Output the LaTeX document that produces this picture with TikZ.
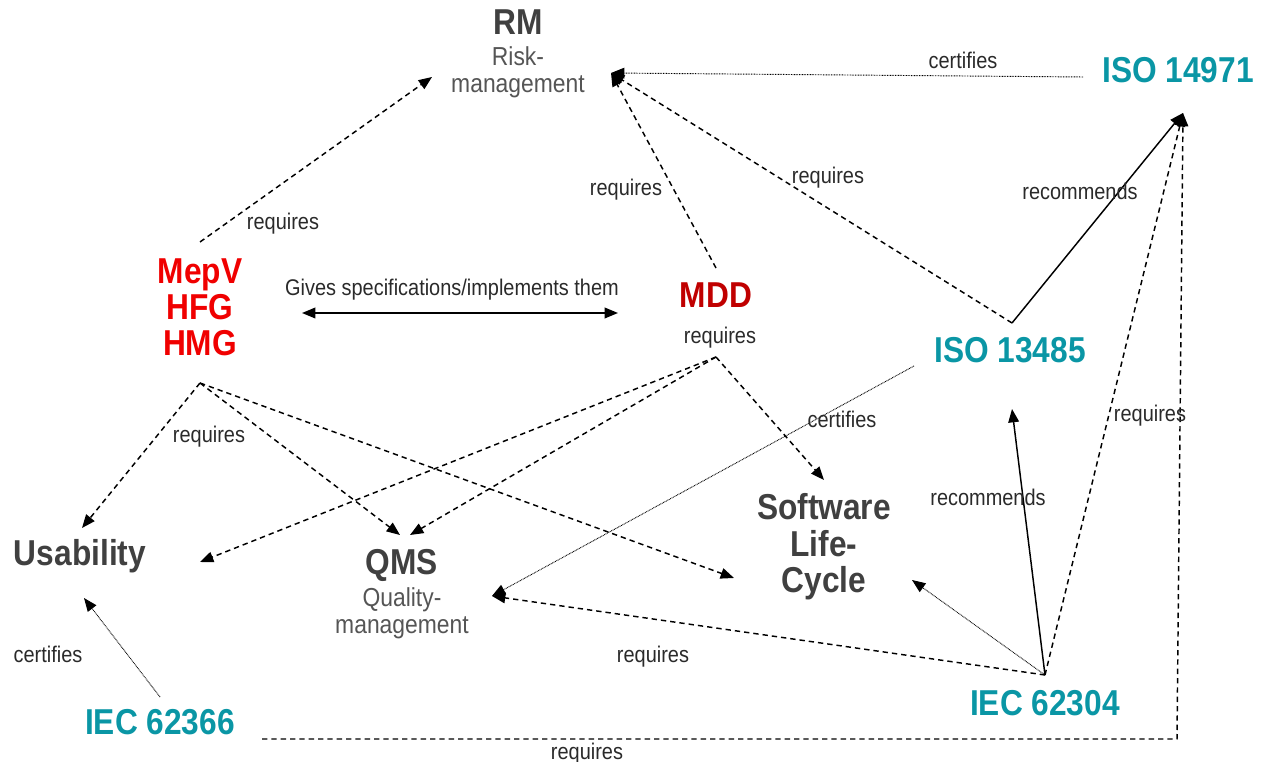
\documentclass[tikz,border=0pt]{standalone}
\usepackage{fontspec}
\setmainfont{Liberation Sans}[FakeStretch=0.88]
\usetikzlibrary{arrows.meta}
\definecolor{titlegrey}{HTML}{404040}
\definecolor{subgrey}{HTML}{555555}
\definecolor{labelgrey}{HTML}{2A2A2A}
\definecolor{normteal}{HTML}{0A96A5}
\definecolor{lawred}{HTML}{F00000}
\definecolor{mddred}{HTML}{C00000}
\tikzset{
  title/.style={font=\fontsize{27}{27.4}\selectfont\bfseries, text=titlegrey, align=center, inner sep=0pt},
  subtitle/.style={font=\fontsize{19.5}{20}\selectfont, text=subgrey, align=center, inner sep=0pt},
  norm/.style={font=\fontsize{27}{27}\selectfont\bfseries, text=normteal, inner sep=0pt},
  law/.style={font=\fontsize{27}{27}\selectfont\bfseries, align=center, inner sep=0pt},
  lbl/.style={font=\fontsize{17}{20}\selectfont, text=labelgrey, inner sep=0pt},
  tip/.style={-{Triangle[length=10pt,width=8pt]}},
  req/.style={tip, line width=1.1pt, dash pattern=on 4pt off 3pt},
  cert/.style={tip, line width=0.7pt, dash pattern=on 0.6pt off 0.6pt},
  rec/.style={tip, line width=1.1pt},
}
\begin{document}
\begin{tikzpicture}[x=0.75pt,y=-0.75pt]
\path[use as bounding box] (0,0) rectangle (1264,762);

% concepts
\node[title] (rm) at (518,22) {RM};
\node[subtitle] (rmsub) at (518,72) {Risk-\\management};
\node[title] (usab) at (80,556) {Usability};
\node[title] (qms) at (402,565) {QMS};
\node[subtitle] (qmssub) at (402,613) {Quality-\\management};
\node[title] (swlc) at (824,547) {Software\\Life-\\Cycle};

% legislation
\node[law, text=lawred] (mepv) at (200,307) {MepV\\HFG\\HMG};
\node[law, text=mddred] (mdd) at (716,295) {MDD};

% standards
\node[norm] (iso14971) at (1178,70) {ISO 14971};
\node[norm] (iso13485) at (1010,350) {ISO 13485};
\node[norm] (iec62366) at (160,722) {IEC 62366};
\node[norm] (iec62304) at (1045,703) {IEC 62304};

% connector end points
\coordinate (mepv-top) at (200,242);
\coordinate (mepv-bot) at (200,383);
\coordinate (mdd-top) at (716,268);
\coordinate (mdd-bot) at (716,357);
\coordinate (rm-left) at (432,77);
\coordinate (rm-right) at (611,73);
\coordinate (iso14971-left) at (1083,77);
\coordinate (iso14971-tip) at (1183,113);
\coordinate (iso13485-top) at (1012,323);
\coordinate (iso13485-left) at (914,366);
\coordinate (iso13485-bot) at (1012,409);
\coordinate (usab-top) at (82,528);
\coordinate (usab-right) at (200,562);
\coordinate (usab-bot) at (84,598);
\coordinate (qms-top-a) at (400,535);
\coordinate (qms-top-b) at (410,535);
\coordinate (qms-right) at (492,596);
\coordinate (swlc-left) at (734,578);
\coordinate (swlc-top) at (824,480);
\coordinate (swlc-right) at (912,580);
\coordinate (iec62304-top) at (1045,675);
\coordinate (iec62366-top) at (160,697);
\coordinate (iec62366-right) at (262,739);
\coordinate (corner) at (1177,739);
\coordinate (gives-left) at (302,313);
\coordinate (gives-right) at (618,313);

% connectors
\draw[req] (mepv-top) -- (rm-left);
\draw[req] (mdd-top) -- (rm-right);
\draw[req] (iso13485-top) -- (rm-right);
\draw[cert] (iso14971-left) -- (rm-right);
\draw[rec] (iso13485-top) -- (iso14971-tip);
\draw[line width=1.1pt, {Triangle[length=10pt,width=8pt]}-{Triangle[length=10pt,width=8pt]}] (gives-left) -- (gives-right);
\draw[req] (mepv-bot) -- (usab-top);
\draw[req] (mepv-bot) -- (qms-top-a);
\draw[req] (mepv-bot) -- (swlc-left);
\draw[req] (mdd-bot) -- (usab-right);
\draw[req] (mdd-bot) -- (qms-top-b);
\draw[req] (mdd-bot) -- (swlc-top);
\draw[cert] (iso13485-left) -- (qms-right);
\draw[req] (iec62304-top) -- (qms-right);
\draw[cert] (iec62304-top) -- (swlc-right);
\draw[rec] (iec62304-top) -- (iso13485-bot);
\draw[req] (iec62304-top) -- (iso14971-tip);
\draw[req] (iec62366-right) -- (corner) -- (iso14971-tip);
\draw[cert] (iec62366-top) -- (usab-bot);

% connector labels
\node[lbl] (l1) at (283,224) {requires};
\node[lbl] (l2) at (452,290) {Gives specifications/implements them};
\node[lbl] (l3) at (626,190) {requires};
\node[lbl] (l4) at (828,178) {requires};
\node[lbl] (l5) at (963,60) {certifies};
\node[lbl] (l6) at (1080,191) {recommends};
\node[lbl] (l7) at (720,338) {requires};
\node[lbl] (l8) at (209,437) {requires};
\node[lbl] (l9) at (842,419) {certifies};
\node[lbl] (l10) at (988,497) {recommends};
\node[lbl] (l11) at (1150,416) {requires};
\node[lbl] (l12) at (653,657) {requires};
\node[lbl] (l13) at (48,654) {certifies};
\node[lbl] (l14) at (587,754) {requires};
\end{tikzpicture}
\end{document}
